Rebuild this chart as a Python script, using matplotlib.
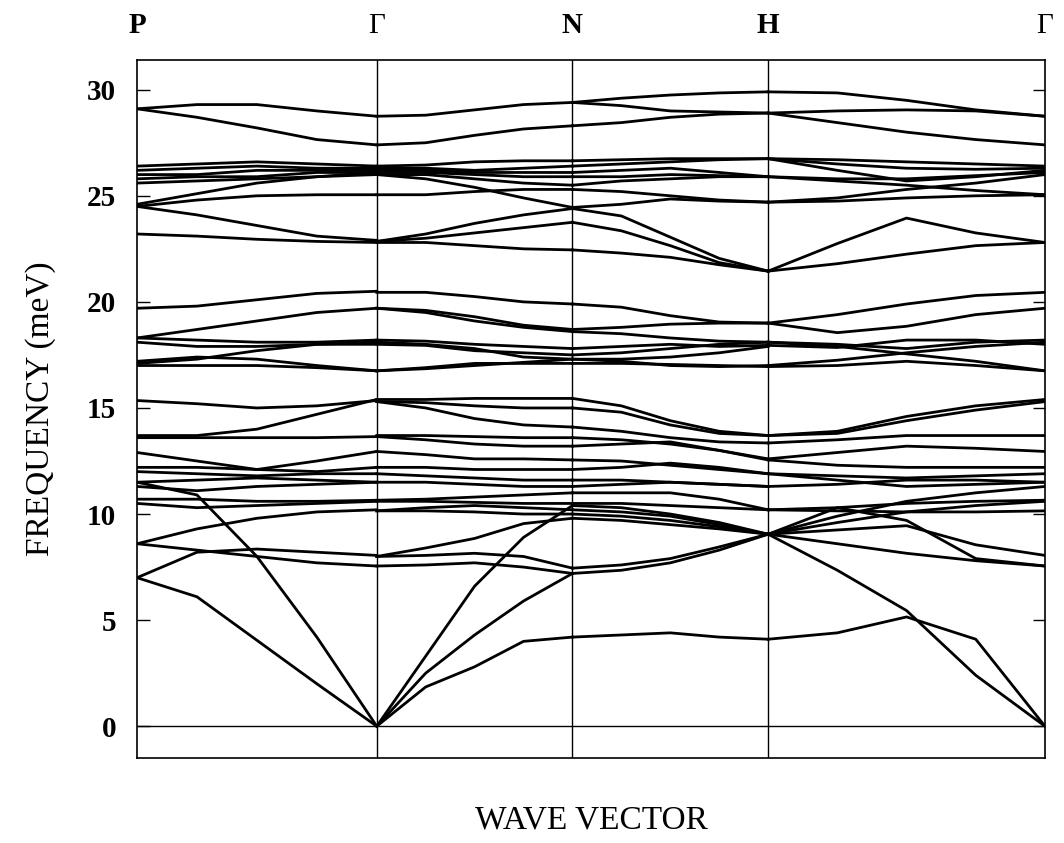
import numpy as np
import matplotlib
matplotlib.use('Agg')
import matplotlib.pyplot as plt

# path lengths (bcc: P-G, G-N, N-H, H-G)
seg_len = [0.866, 0.707, 0.707, 1.0]
point_labels = ['P', '\u0393', 'N', 'H', '\u0393']
y_ticks = [0, 5, 10, 15, 20, 25, 30]

# frequencies (meV) read at 0, 1/4, 1/2, 3/4, 1 of each segment
seg_PG = [
    [29.1, 29.3, 29.3, 29.0, 28.75],
    [29.1, 28.7, 28.2, 27.65, 27.4],
    [26.4, 26.5, 26.6, 26.5, 26.4],
    [26.2, 26.3, 26.4, 26.3, 26.3],
    [26.0, 26.0, 26.2, 26.2, 26.2],
    [25.8, 25.9, 25.9, 26.1, 26.1],
    [25.6, 25.7, 25.8, 25.9, 26.0],
    [24.6, 25.1, 25.6, 25.9, 26.1],
    [24.5, 24.8, 25.0, 25.05, 25.05],
    [24.5, 24.1, 23.6, 23.1, 22.9],
    [23.2, 23.1, 22.95, 22.85, 22.8],
    [19.7, 19.8, 20.1, 20.4, 20.5],
    [18.3, 18.7, 19.1, 19.5, 19.7],
    [18.3, 18.2, 18.1, 18.1, 18.2],
    [18.1, 17.9, 17.9, 18.0, 18.0],
    [17.1, 17.3, 17.7, 18.0, 18.1],
    [17.0, 17.0, 17.0, 16.9, 16.75],
    [17.2, 17.4, 17.3, 17.0, 16.75],
    [15.35, 15.2, 15.0, 15.1, 15.35],
    [13.7, 13.7, 14.0, 14.7, 15.4],
    [13.6, 13.6, 13.6, 13.6, 13.65],
    [12.9, 12.5, 12.1, 12.5, 12.95],
    [12.2, 12.2, 12.1, 12.0, 12.2],
    [12.0, 11.9, 11.8, 11.9, 11.9],
    [11.5, 11.6, 11.7, 11.6, 11.5],
    [11.3, 11.1, 11.3, 11.4, 11.5],
    [10.7, 10.7, 10.6, 10.6, 10.65],
    [10.5, 10.3, 10.4, 10.5, 10.6],
    [8.6, 9.3, 9.8, 10.1, 10.2],
    [11.5, 10.9, 8.0, 4.2, 0.0],
    [7.0, 8.2, 8.35, 8.2, 8.05],
    [8.6, 8.3, 8.0, 7.7, 7.55],
    [7.0, 6.1, 4.05, 2.0, 0.0],
]

seg_GN = [
    [28.75, 28.8, 29.05, 29.3, 29.4],
    [27.4, 27.5, 27.85, 28.15, 28.3],
    [26.4, 26.45, 26.6, 26.65, 26.65],
    [26.3, 26.3, 26.2, 26.3, 26.4],
    [26.2, 26.2, 26.1, 26.1, 26.1],
    [26.1, 26.1, 26.0, 25.9, 25.9],
    [26.0, 26.0, 25.8, 25.6, 25.5],
    [26.0, 25.8, 25.4, 24.9, 24.45],
    [25.05, 25.05, 25.2, 25.3, 25.3],
    [22.85, 23.2, 23.7, 24.1, 24.4],
    [22.85, 23.0, 23.25, 23.5, 23.75],
    [22.8, 22.8, 22.65, 22.5, 22.45],
    [20.45, 20.45, 20.25, 20.0, 19.9],
    [19.7, 19.6, 19.3, 18.9, 18.7],
    [19.7, 19.5, 19.1, 18.8, 18.6],
    [18.2, 18.15, 18.0, 17.9, 17.8],
    [18.0, 17.95, 17.7, 17.6, 17.5],
    [18.1, 18.0, 17.8, 17.4, 17.3],
    [16.75, 16.85, 17.0, 17.15, 17.3],
    [16.75, 16.9, 17.1, 17.1, 17.1],
    [15.4, 15.4, 15.45, 15.45, 15.45],
    [15.3, 15.25, 15.1, 15.0, 15.0],
    [15.3, 15.0, 14.5, 14.2, 14.1],
    [13.7, 13.7, 13.65, 13.6, 13.6],
    [13.65, 13.5, 13.3, 13.2, 13.2],
    [12.95, 12.8, 12.6, 12.6, 12.55],
    [12.2, 12.2, 12.1, 12.1, 12.1],
    [11.9, 11.8, 11.7, 11.6, 11.6],
    [11.5, 11.5, 11.4, 11.3, 11.3],
    [10.65, 10.7, 10.8, 10.9, 11.0],
    [10.6, 10.6, 10.55, 10.5, 10.5],
    [10.15, 10.3, 10.4, 10.3, 10.2],
    [10.15, 10.15, 10.1, 10.0, 10.0],
    [8.0, 8.4, 8.85, 9.55, 9.8],
    [8.0, 8.05, 8.15, 8.0, 7.45],
    [7.55, 7.6, 7.7, 7.5, 7.2],
    [0.0, 1.85, 2.8, 4.0, 4.2],
    [0.0, 2.5, 4.3, 5.9, 7.2],
    [0.0, 3.3, 6.6, 8.9, 10.4],
]

seg_NH = [
    [29.4, 29.6, 29.75, 29.85, 29.9],
    [29.4, 29.25, 29.0, 28.95, 28.9],
    [28.3, 28.45, 28.7, 28.85, 28.9],
    [26.65, 26.7, 26.75, 26.75, 26.75],
    [26.4, 26.5, 26.6, 26.7, 26.75],
    [26.1, 26.2, 26.3, 26.1, 25.9],
    [25.9, 25.9, 26.0, 25.95, 25.9],
    [25.5, 25.7, 25.8, 25.9, 25.9],
    [25.3, 25.2, 25.0, 24.8, 24.7],
    [24.45, 24.6, 24.85, 24.75, 24.7],
    [24.4, 24.05, 23.05, 22.05, 21.45],
    [23.75, 23.35, 22.65, 21.85, 21.45],
    [22.45, 22.3, 22.1, 21.75, 21.45],
    [19.9, 19.75, 19.35, 19.05, 19.0],
    [18.7, 18.8, 18.95, 19.0, 19.0],
    [18.6, 18.5, 18.3, 18.15, 18.1],
    [17.8, 17.9, 18.0, 17.9, 17.95],
    [17.5, 17.6, 17.8, 18.0, 18.1],
    [17.3, 17.3, 17.4, 17.6, 17.9],
    [17.3, 17.2, 17.0, 16.95, 17.0],
    [17.1, 17.1, 17.05, 17.0, 16.95],
    [15.45, 15.1, 14.4, 13.9, 13.7],
    [15.0, 14.8, 14.2, 13.8, 13.7],
    [14.1, 13.9, 13.6, 13.4, 13.35],
    [13.6, 13.5, 13.3, 13.0, 12.6],
    [13.2, 13.3, 13.4, 13.0, 12.55],
    [12.55, 12.5, 12.3, 12.1, 11.9],
    [12.1, 12.2, 12.4, 12.2, 11.9],
    [11.6, 11.6, 11.5, 11.4, 11.3],
    [11.3, 11.4, 11.5, 11.4, 11.3],
    [11.0, 11.0, 11.0, 10.7, 10.2],
    [10.5, 10.5, 10.4, 10.3, 10.2],
    [10.4, 10.3, 10.0, 9.6, 9.05],
    [10.2, 10.1, 9.9, 9.5, 9.05],
    [10.0, 9.9, 9.7, 9.4, 9.05],
    [9.8, 9.7, 9.5, 9.3, 9.05],
    [7.45, 7.6, 7.9, 8.45, 9.05],
    [7.2, 7.35, 7.7, 8.3, 9.05],
    [4.2, 4.3, 4.4, 4.2, 4.1],
]

seg_HG = [
    [29.9, 29.85, 29.5, 29.05, 28.75],
    [28.9, 29.0, 29.05, 29.0, 28.75],
    [28.9, 28.45, 28.0, 27.65, 27.4],
    [26.75, 26.7, 26.6, 26.5, 26.4],
    [26.75, 26.5, 26.3, 26.25, 26.3],
    [26.75, 26.2, 25.7, 25.9, 26.2],
    [25.9, 25.8, 25.8, 25.95, 26.1],
    [25.9, 25.7, 25.5, 25.25, 25.05],
    [24.7, 24.9, 25.3, 25.6, 26.0],
    [24.7, 24.75, 24.9, 25.0, 25.05],
    [21.45, 22.75, 23.95, 23.25, 22.8],
    [21.45, 21.8, 22.25, 22.65, 22.8],
    [19.0, 19.4, 19.9, 20.3, 20.45],
    [19.0, 18.55, 18.85, 19.4, 19.7],
    [18.1, 18.0, 17.8, 18.1, 18.2],
    [17.95, 17.85, 18.2, 18.2, 18.0],
    [18.1, 17.9, 17.55, 17.2, 16.75],
    [17.0, 17.25, 17.6, 17.9, 18.1],
    [16.95, 17.0, 17.2, 17.0, 16.75],
    [13.7, 13.9, 14.6, 15.1, 15.4],
    [13.7, 13.8, 14.4, 14.9, 15.3],
    [13.35, 13.5, 13.7, 13.7, 13.7],
    [12.6, 12.9, 13.2, 13.1, 12.95],
    [12.55, 12.3, 12.2, 12.2, 12.2],
    [11.9, 11.8, 11.7, 11.8, 11.9],
    [11.9, 11.6, 11.3, 11.4, 11.5],
    [11.3, 11.4, 11.6, 11.6, 11.5],
    [10.2, 10.3, 10.5, 10.6, 10.65],
    [9.05, 9.6, 10.1, 10.4, 10.6],
    [9.05, 9.9, 10.6, 11.0, 11.3],
    [10.2, 10.15, 10.1, 10.1, 10.15],
    [9.05, 8.6, 8.15, 7.8, 7.55],
    [9.05, 10.3, 9.7, 7.9, 7.55],
    [9.05, 9.25, 9.45, 8.55, 8.05],
    [9.05, 7.35, 5.45, 2.4, 0.0],
    [4.1, 4.4, 5.15, 4.1, 0.0],
]

segments = [seg_PG, seg_GN, seg_NH, seg_HG]

plt.rcParams['font.family'] = ['Liberation Serif', 'DejaVu Serif']

fig = plt.figure(figsize=(10.64, 8.43), dpi=100)
ax = fig.add_axes([0.1288, 0.1008, 0.8533, 0.828])

kpts = np.concatenate([[0.0], np.cumsum(seg_len)])
for i, seg in enumerate(segments):
    xs = np.linspace(kpts[i], kpts[i + 1], 5)
    for band in seg:
        ax.plot(xs, band, color='black', lw=2.0, solid_joinstyle='round')

for k in kpts[1:-1]:
    ax.axvline(k, color='black', lw=1.0)
ax.axhline(0, color='black', lw=1.0)

ax.set_xlim(kpts[0], kpts[-1])
ax.set_ylim(-1.5, 31.4)
ax.set_yticks(y_ticks)
ax.set_yticklabels([str(t) for t in y_ticks], fontsize=21, fontweight='bold')
ax.tick_params(axis='y', direction='in', length=9, width=1.0, right=True, pad=15)
ax.set_xticks([])
for s in ax.spines.values():
    s.set_linewidth(1.2)

for k, lab in zip(kpts, point_labels):
    ax.text(k, 1.03, lab, transform=ax.get_xaxis_transform(), ha='center', va='bottom',
            fontsize=21, fontweight='normal' if lab == '\u0393' else 'bold')

ax.set_xlabel('WAVE VECTOR', fontsize=24, labelpad=34)
ax.set_ylabel('FREQUENCY (meV)', fontsize=24, labelpad=22)

fig.savefig('out.png', dpi=100)
